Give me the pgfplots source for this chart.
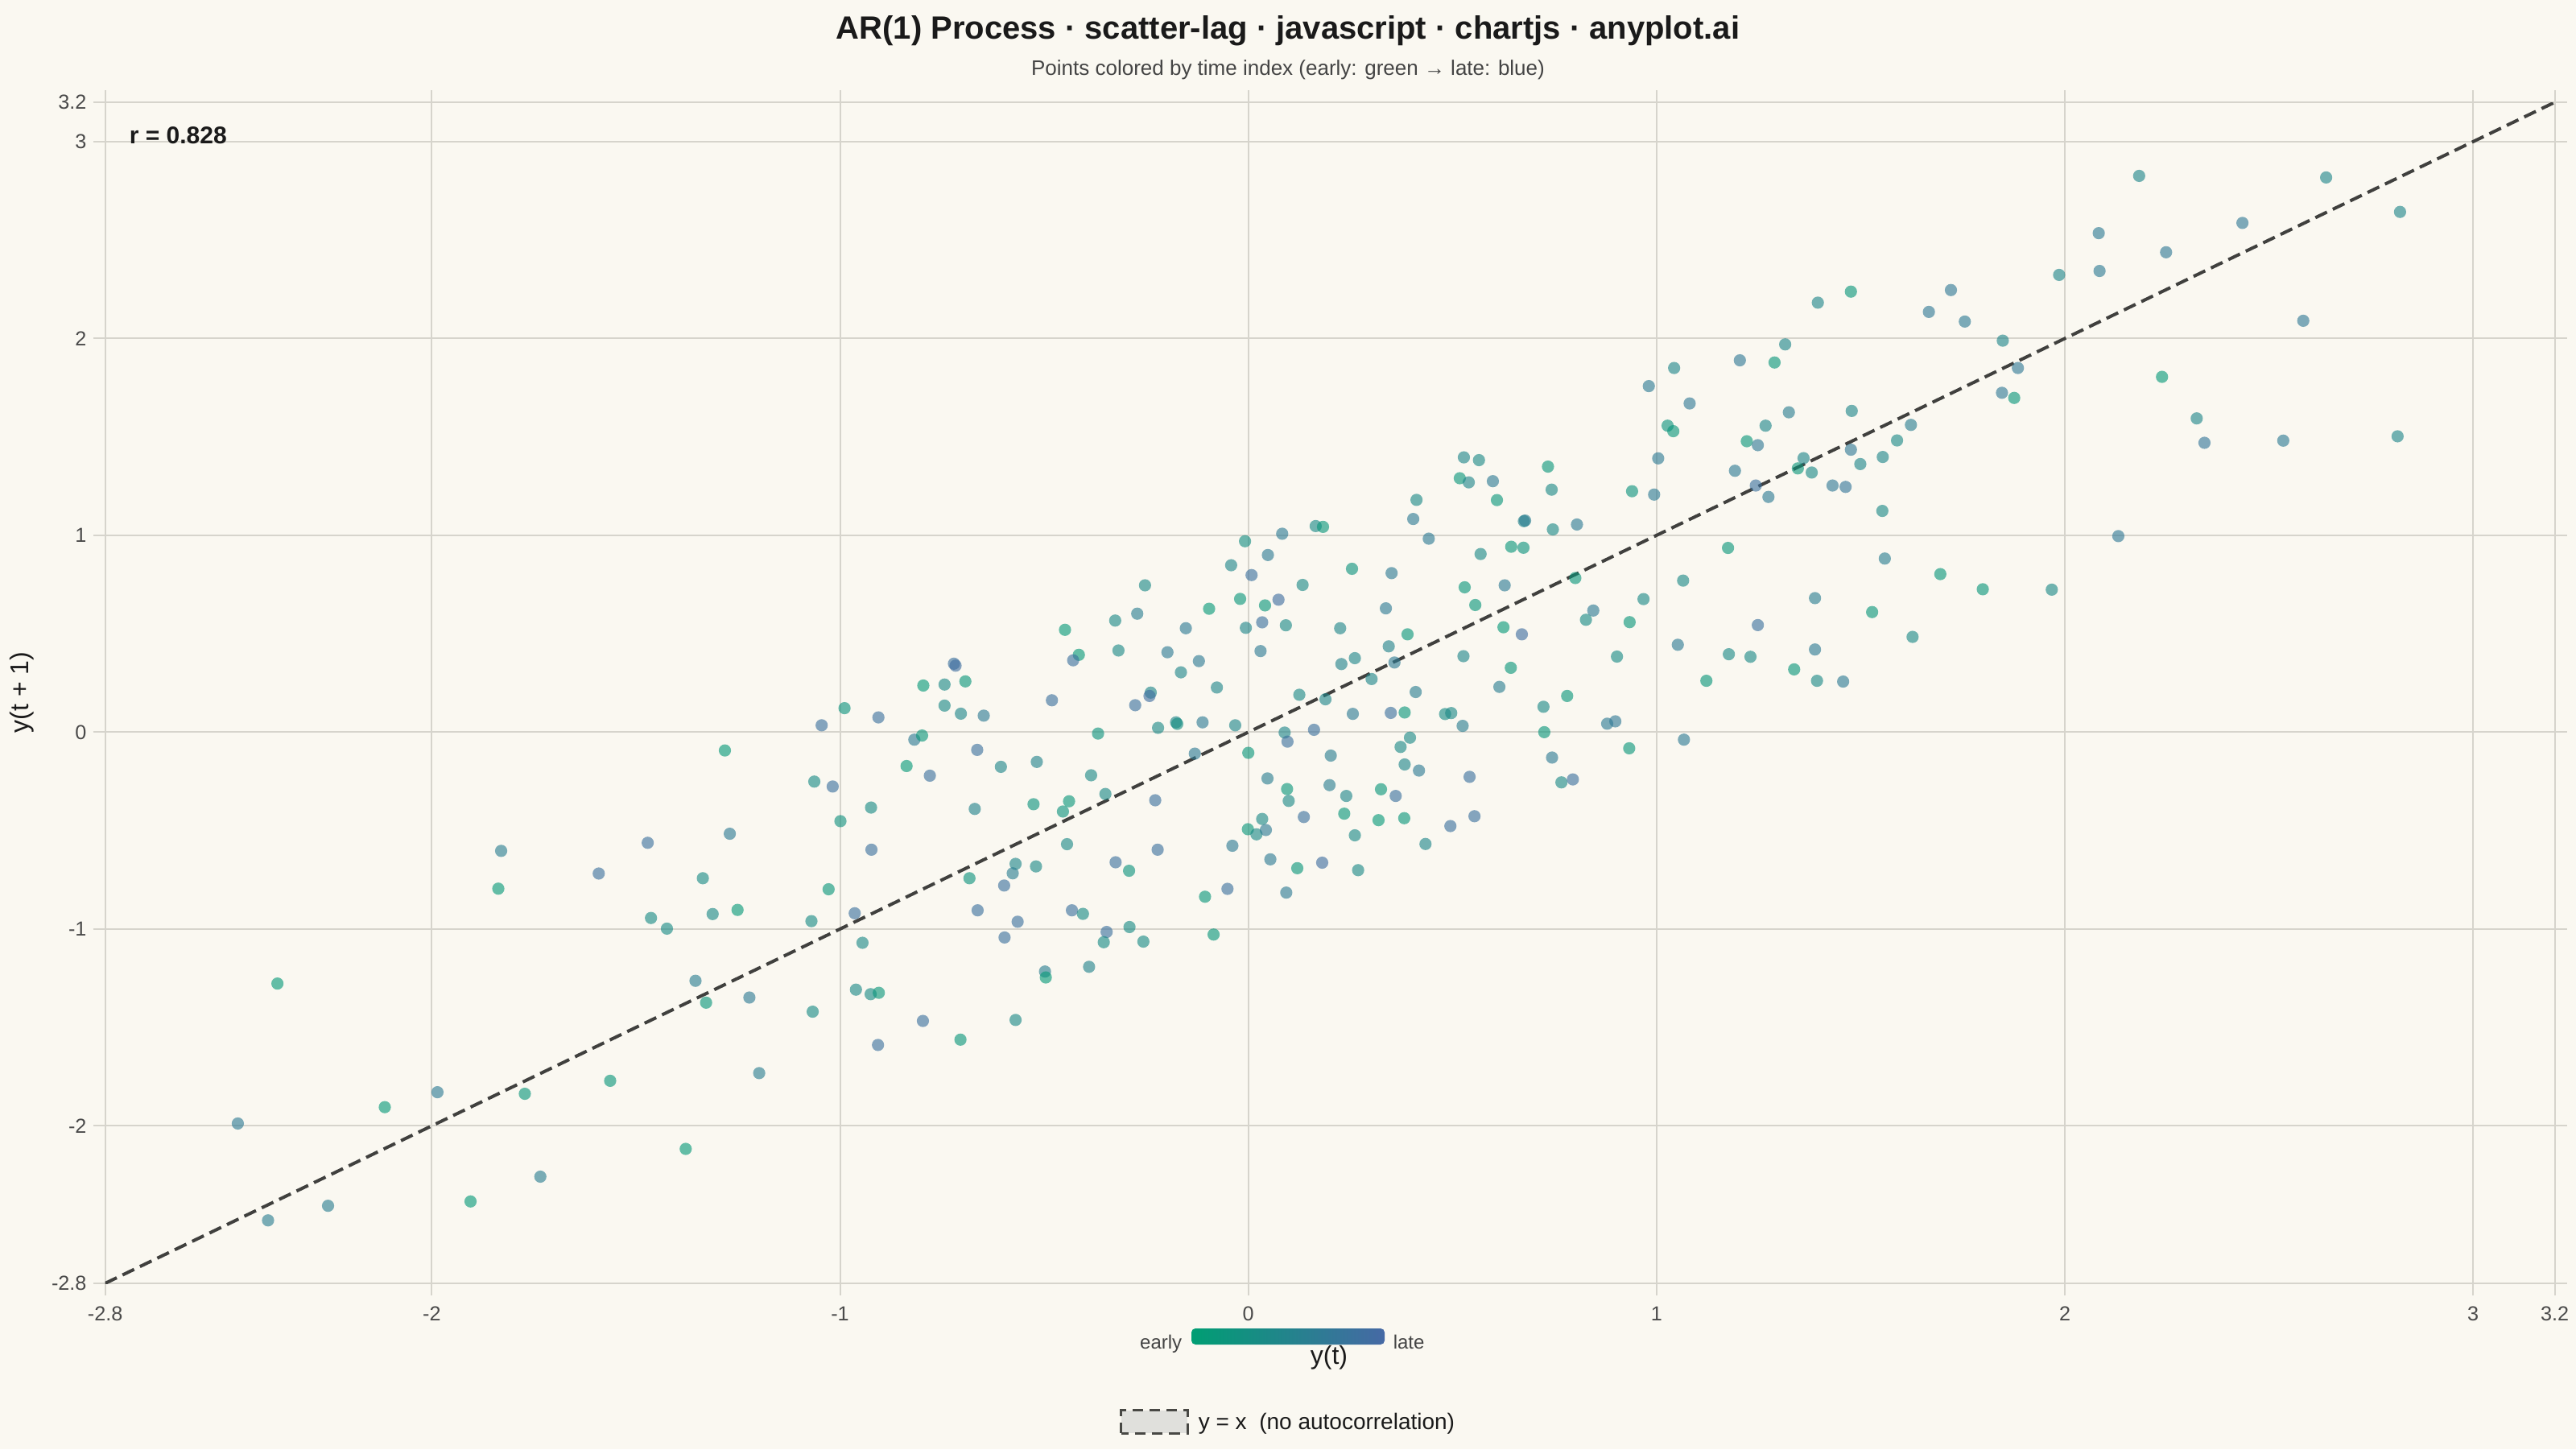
\documentclass[border=0pt]{standalone}
\usepackage{pgfplots}
\pgfplotsset{compat=1.18}
\usepackage{pgfplotstable}
\usepackage{fontspec}
\setmainfont{Liberation Sans}
\definecolor{bgc}{RGB}{250,248,241}
\definecolor{gridc}{RGB}{214,212,204}
\definecolor{tickc}{RGB}{74,74,74}
\definecolor{titlec}{RGB}{26,26,26}
\definecolor{subc}{RGB}{68,68,68}
\definecolor{linec}{RGB}{64,64,62}
\definecolor{legfill}{RGB}{224,224,220}
\definecolor{legdraw}{RGB}{72,72,68}
\definecolor{early}{RGB}{0,158,115}
\definecolor{late}{RGB}{70,105,165}

\pgfplotstableread{
x y c
-2.475 -1.988 0.65
-2.378 -1.277 0.1
-2.401 -2.480 0.6
-2.254 -2.406 0.6
-2.115 -1.905 0.1
-1.986 -1.829 0.65
-1.905 -2.384 0.1
-1.830 -0.603 0.6
-1.837 -0.795 0.1
-1.772 -1.837 0.15
-1.734 -2.258 0.6
-1.591 -0.718 0.85
-1.563 -1.771 0.15
-1.471 -0.562 0.85
-1.463 -0.944 0.35
-1.424 -0.998 0.35
-1.378 -2.117 0.1
-1.354 -1.263 0.6
-1.328 -1.374 0.15
-1.336 -0.742 0.35
-1.312 -0.924 0.4
-1.282 -0.093 0.1
-1.270 -0.516 0.65
-1.251 -0.903 0.1
-1.222 -1.348 0.65
-1.198 -1.732 0.6
-0.042 0.848 0.45
0.008 0.798 0.85
-0.253 0.746 0.4
-0.272 0.602 0.6
-0.326 0.567 0.4
-0.096 0.627 0.1
-0.020 0.677 0.15
-0.006 0.530 0.45
-0.153 0.528 0.65
-0.449 0.520 0.1
-0.415 0.393 0.1
-0.429 0.365 0.85
-0.318 0.415 0.4
-0.198 0.406 0.65
-0.121 0.361 0.65
-0.165 0.304 0.45
-0.077 0.227 0.45
-0.481 0.162 0.85
-0.239 0.201 0.45
-0.242 0.184 0.9
-0.277 0.137 0.85
-0.221 0.022 0.4
-0.177 0.050 0.45
-0.174 0.042 0.3
-0.112 0.050 0.65
-0.032 0.035 0.45
-0.721 0.348 0.85
-0.717 0.338 0.9
-0.796 0.237 0.1
-0.744 0.242 0.4
-0.693 0.258 0.15
-0.744 0.135 0.4
-0.704 0.094 0.45
-0.648 0.084 0.65
-0.989 0.122 0.2
-1.045 0.035 0.85
-0.906 0.075 0.85
-0.818 -0.038 0.65
-0.799 -0.017 0.15
-0.837 -0.172 0.1
-0.780 -0.221 0.85
-0.664 -0.090 0.85
-0.606 -0.176 0.45
-0.518 -0.151 0.5
-1.063 -0.251 0.35
-1.018 -0.276 0.85
-0.924 -0.383 0.35
-0.999 -0.452 0.25
-0.923 -0.597 0.85
-0.670 -0.390 0.5
-0.526 -0.366 0.2
-0.439 -0.351 0.15
-0.454 -0.403 0.2
-0.385 -0.219 0.4
-0.350 -0.314 0.4
-0.368 -0.007 0.2
-0.228 -0.346 0.85
-0.131 -0.109 0.65
0.000 -0.105 0.15
-0.444 -0.569 0.4
-0.570 -0.669 0.45
-0.577 -0.717 0.6
-0.520 -0.682 0.4
-0.683 -0.742 0.2
-0.598 -0.779 0.85
-0.597 -1.043 0.85
-0.565 -0.963 0.85
-0.663 -0.905 0.85
-0.964 -0.920 0.85
-1.070 -0.960 0.35
-1.028 -0.798 0.15
-0.945 -1.070 0.4
-0.961 -1.308 0.4
-0.925 -1.331 0.35
-0.905 -1.324 0.15
-1.067 -1.420 0.35
-0.797 -1.467 0.85
-0.907 -1.589 0.85
-0.705 -1.562 0.15
-0.570 -1.462 0.4
-0.498 -1.216 0.6
-0.496 -1.246 0.1
-0.390 -1.192 0.5
-0.432 -0.905 0.85
-0.405 -0.923 0.35
-0.325 -0.661 0.85
-0.292 -0.704 0.2
-0.347 -1.015 0.85
-0.354 -1.067 0.35
-0.291 -0.990 0.35
-0.257 -1.064 0.35
-0.222 -0.597 0.85
-0.106 -0.836 0.15
-0.085 -1.028 0.15
-0.051 -0.796 0.85
-0.039 -0.577 0.65
-0.001 -0.493 0.15
0.528 1.396 0.45
0.565 1.382 0.4
0.734 1.349 0.15
1.004 1.391 0.65
0.518 1.290 0.15
0.540 1.269 0.45
0.599 1.275 0.65
0.743 1.232 0.4
0.609 1.179 0.15
0.940 1.224 0.2
0.994 1.207 0.65
0.412 1.180 0.4
0.404 1.083 0.65
0.165 1.047 0.4
0.183 1.043 0.15
0.083 1.008 0.65
-0.008 0.970 0.3
0.048 0.900 0.65
0.442 0.983 0.65
0.675 1.072 0.5
0.678 1.075 0.6
0.746 1.030 0.4
0.805 1.055 0.65
0.569 0.905 0.4
0.644 0.942 0.15
0.674 0.937 0.2
0.254 0.830 0.2
0.351 0.808 0.65
0.133 0.748 0.4
0.041 0.644 0.15
0.074 0.673 0.9
0.034 0.558 0.85
0.092 0.543 0.4
0.030 0.412 0.65
0.225 0.528 0.45
0.337 0.629 0.65
0.530 0.736 0.15
0.556 0.646 0.15
0.628 0.746 0.65
0.390 0.497 0.15
0.344 0.436 0.5
0.358 0.354 0.65
0.228 0.346 0.5
0.261 0.376 0.45
0.302 0.270 0.45
0.625 0.533 0.1
0.670 0.497 0.9
0.527 0.386 0.45
0.643 0.327 0.15
0.615 0.230 0.6
0.801 0.783 0.15
0.845 0.618 0.65
0.827 0.571 0.35
0.934 0.559 0.15
0.968 0.676 0.4
1.065 0.770 0.4
1.052 0.444 0.65
0.903 0.384 0.35
0.125 0.190 0.4
0.189 0.167 0.45
0.410 0.204 0.6
0.256 0.093 0.65
0.349 0.098 0.85
0.383 0.100 0.15
0.482 0.092 0.35
0.497 0.097 0.4
0.525 0.032 0.6
0.723 0.129 0.4
0.781 0.184 0.15
0.879 0.043 0.65
0.899 0.055 0.7
0.725 0.000 0.15
0.933 -0.082 0.15
1.067 -0.038 0.65
0.089 -0.002 0.45
0.096 -0.048 0.85
0.161 0.012 0.85
0.202 -0.119 0.6
0.396 -0.028 0.4
0.373 -0.075 0.4
0.383 -0.164 0.45
0.418 -0.195 0.65
0.744 -0.129 0.65
0.767 -0.255 0.4
0.795 -0.240 0.85
0.542 -0.227 0.85
0.047 -0.235 0.6
0.095 -0.289 0.15
0.099 -0.349 0.4
0.199 -0.269 0.6
0.240 -0.324 0.45
0.325 -0.290 0.15
0.361 -0.324 0.85
0.235 -0.414 0.15
0.319 -0.447 0.1
0.382 -0.437 0.15
0.136 -0.431 0.85
0.034 -0.441 0.4
0.020 -0.519 0.4
0.043 -0.497 0.65
0.261 -0.524 0.4
0.434 -0.568 0.45
0.495 -0.477 0.85
0.554 -0.427 0.85
0.054 -0.646 0.65
0.120 -0.691 0.15
0.181 -0.663 0.9
0.269 -0.701 0.4
0.093 -0.815 0.65
2.083 2.535 0.65
2.085 2.343 0.65
1.986 2.323 0.45
1.721 2.246 0.7
1.667 2.135 0.7
1.755 2.086 0.65
1.848 1.989 0.45
1.885 1.850 0.7
1.846 1.724 0.7
1.876 1.698 0.15
1.395 2.182 0.45
1.476 2.238 0.15
1.315 1.970 0.45
1.289 1.878 0.15
1.204 1.889 0.7
1.043 1.850 0.45
0.981 1.758 0.65
1.081 1.670 0.7
1.027 1.557 0.2
1.041 1.529 0.15
1.267 1.557 0.45
1.324 1.625 0.6
1.221 1.478 0.15
1.248 1.458 0.7
1.192 1.328 0.65
1.243 1.253 0.85
1.274 1.195 0.65
1.360 1.392 0.45
1.346 1.340 0.15
1.380 1.319 0.4
1.431 1.253 0.7
1.463 1.246 0.75
1.478 1.632 0.45
1.476 1.435 0.7
1.499 1.362 0.45
1.554 1.398 0.45
1.589 1.482 0.4
1.623 1.561 0.6
1.553 1.124 0.4
1.175 0.936 0.15
1.559 0.882 0.6
1.695 0.803 0.15
1.799 0.726 0.15
1.968 0.724 0.4
2.131 0.996 0.7
1.388 0.681 0.6
1.528 0.610 0.15
1.627 0.484 0.4
1.248 0.544 0.85
1.177 0.396 0.4
1.230 0.383 0.4
1.337 0.319 0.15
1.388 0.420 0.65
1.393 0.261 0.4
1.457 0.257 0.65
1.122 0.261 0.15
2.182 2.826 0.45
2.640 2.818 0.45
2.821 2.643 0.45
2.435 2.587 0.7
2.248 2.438 0.7
2.584 2.090 0.7
2.238 1.805 0.1
2.323 1.594 0.45
2.342 1.470 0.75
2.535 1.481 0.65
2.815 1.503 0.45
}\lagdata

\begin{document}
\begin{tikzpicture}[x=1pt,y=1pt]
\fill[bgc] (0,0) rectangle (800,450);
\path[use as bounding box] (0,0) rectangle (800,450);
\begin{axis}[
  at={(32.65pt,51.5pt)}, anchor=south west,
  scale only axis, width=760.75pt, height=366.75pt,
  xmin=-2.8, xmax=3.2, ymin=-2.8, ymax=3.2,
  xtick={-2.8,-2,-1,0,1,2,3,3.2},
  xticklabels={-2.8,-2,-1,0,1,2,3,3.2},
  ytick={-2.8,-2,-1,0,1,2,3,3.2},
  yticklabels={-2.8,-2,-1,0,1,2,3,3.2},
  grid=major,
  major grid style={draw=gridc, line width=0.5pt},
  axis line style={draw=gridc, line width=0.5pt},
  tick align=outside, major tick length=3.75pt,
  tick style={draw=gridc, line width=0.5pt},
  ticklabel style={font=\fontsize{6.3}{7}\selectfont, text=tickc},
  yticklabel style={xshift=1.5pt},
  colormap={ab}{rgb255(0cm)=(0,158,115); rgb255(1cm)=(70,105,165)},
  point meta min=0, point meta max=1,
]
\addplot[scatter, only marks, mark=*, mark size=1.9pt,
  scatter/use mapped color={draw=mapped color, fill=mapped color, draw opacity=0, fill opacity=0.62},
  point meta=explicit]
  table[x=x, y=y, meta=c] {\lagdata};
\addplot[draw=linec, line width=1pt, dash pattern=on 4pt off 2pt]
  coordinates {(-2.8,-2.8) (3.2,3.2)};
\end{axis}
\node[font=\bfseries\fontsize{10}{11}\selectfont, text=titlec] at (400,440.5)
  {AR(1) Process · scatter-lag · javascript · chartjs · anyplot.ai};
\node[font=\fontsize{6.5}{8}\selectfont, text=subc] at (400,428.25)
  {Points colored by time index (early: green → late: blue)};
\node[anchor=base west, font=\bfseries\fontsize{7.5}{8}\selectfont, text=titlec, inner sep=0pt] at (40,405.25) {r = 0.828};
\node[rotate=90, font=\fontsize{8}{9}\selectfont, text=titlec] at (6.75,235) {y(t + 1)};
\node[anchor=base, font=\fontsize{8}{9}\selectfont, text=titlec, inner sep=0pt] at (412.75,26.5) {y(t)};
\shade[left color=early, right color=late, rounded corners=1.25pt] (370,32.5) rectangle (430,37.5);
\node[anchor=base east, font=\fontsize{6}{7}\selectfont, text=subc, inner sep=0pt] at (367.25,31.2) {early};
\node[anchor=base west, font=\fontsize{6}{7}\selectfont, text=subc, inner sep=0pt] at (432.5,31.2) {late};
\filldraw[fill=legfill, draw=legdraw, line width=0.75pt, dash pattern=on 3.3pt off 2pt] (348.2,5) rectangle (368.75,12.1);
\node[anchor=base west, font=\fontsize{7}{8}\selectfont, text=titlec, inner sep=0pt] at (372,6.25) {y = x\ \ (no autocorrelation)};
\end{tikzpicture}
\end{document}
